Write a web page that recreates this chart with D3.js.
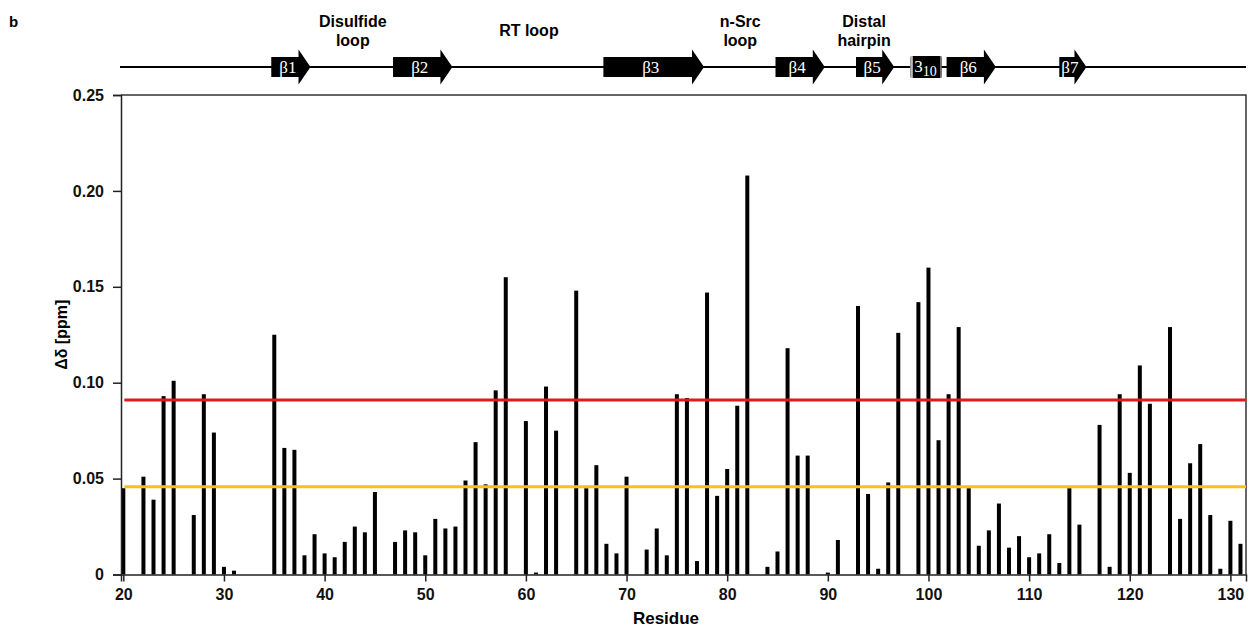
<!DOCTYPE html>
<html>
<head>
<meta charset="utf-8">
<script src="https://cdn.jsdelivr.net/npm/d3@7"></script>
<style>
  body { margin: 0; background: #fff; }
</style>
</head>
<body>
<div id="chart"></div>
<script>
// Residue numbers and chemical shift perturbations (ppm)
var residues = [20, 22, 23, 24, 25, 27, 28, 29, 30, 31,
    35, 36, 37, 38, 39, 40, 41, 42, 43, 44, 45,
    47, 48, 49, 50, 51, 52, 53, 54, 55, 56, 57, 58,
    60, 61, 62, 63, 65, 66, 67, 68, 69, 70,
    72, 73, 74, 75, 76, 77, 78, 79, 80, 81, 82,
    84, 85, 86, 87, 88, 90, 91, 93, 94, 95, 96, 97,
    99, 100, 101, 102, 103, 104, 105, 106, 107, 108, 109, 110,
    111, 112, 113, 114, 115, 117, 118, 119, 120, 121, 122,
    124, 125, 126, 127, 128, 129, 130, 131];
var shifts = [0.045, 0.051, 0.039, 0.093, 0.101, 0.031, 0.094, 0.074, 0.004, 0.002,
    0.125, 0.066, 0.065, 0.010, 0.021, 0.011, 0.009, 0.017, 0.025, 0.022, 0.043,
    0.017, 0.023, 0.022, 0.010, 0.029, 0.024, 0.025, 0.049, 0.069, 0.047, 0.096, 0.155,
    0.080, 0.001, 0.098, 0.075, 0.148, 0.045, 0.057, 0.016, 0.011, 0.051,
    0.013, 0.024, 0.010, 0.094, 0.092, 0.007, 0.147, 0.041, 0.055, 0.088, 0.208,
    0.004, 0.012, 0.118, 0.062, 0.062, 0.001, 0.018, 0.140, 0.042, 0.003, 0.048, 0.126,
    0.142, 0.160, 0.070, 0.094, 0.129, 0.045, 0.015, 0.023, 0.037, 0.014, 0.020, 0.009,
    0.011, 0.021, 0.006, 0.045, 0.026, 0.078, 0.004, 0.094, 0.053, 0.109, 0.089,
    0.129, 0.029, 0.058, 0.068, 0.031, 0.003, 0.028, 0.016];

// Thresholds
var thresholds = [0.091, 0.0458];
var thresholdColors = ['#e0191b', '#f7c11a'];

// Secondary structure (residue ranges)
var strandLabels = ['β1', 'β2', 'β3', 'β4', 'β5', 'β6', 'β7'];
var strandStart = [34.7, 46.8, 67.7, 84.8, 92.8, 101.8, 113.0];
var strandEnd = [38.6, 52.7, 77.7, 89.7, 96.6, 106.7, 115.7];
var helixStart = 98.2, helixEnd = 101.3;

// Loop annotations
var loopLabels = [['Disulfide', 'loop'], ['RT loop'], ['n-Src', 'loop'], ['Distal', 'hairpin']];
var loopCenters = [42.8, 60.3, 81.3, 93.6];

var yTicks = [0, 0.05, 0.10, 0.15, 0.20, 0.25];
var xTicks = [20, 30, 40, 50, 60, 70, 80, 90, 100, 110, 120, 130];

var sansFont = '"Liberation Sans", Arial, sans-serif';
var serifFont = '"Liberation Serif", "Times New Roman", serif';

var width = 1250, height = 631;
var margin = {top: 95, right: 4, bottom: 56.5, left: 121};

var svg = d3.select('#chart').append('svg')
    .attr('width', width)
    .attr('height', height)
    .attr('font-family', sansFont);

var x = d3.scaleLinear()
    .domain([19.77, 131.55])
    .range([margin.left, width - margin.right]);

var y = d3.scaleLinear()
    .domain([0, 0.25])
    .range([height - margin.bottom, margin.top]);

// Frame (top and right)
svg.append('path')
    .attr('d', 'M' + x.range()[0] + ',' + y(0.25) + 'H' + x.range()[1] + 'V' + y(0))
    .attr('fill', 'none')
    .attr('stroke', '#333')
    .attr('stroke-width', 1.5);

// Bars
svg.selectAll('.bar')
    .data(residues)
    .enter()
    .append('rect')
    .attr('class', 'bar')
    .attr('x', function(d) { return x(d) - 2; })
    .attr('width', 4)
    .attr('y', function(d, i) { return y(shifts[i]); })
    .attr('height', function(d, i) { return y(0) - y(shifts[i]); })
    .attr('fill', '#000');

// Threshold lines
svg.selectAll('.thr')
    .data(thresholds)
    .enter()
    .append('line')
    .attr('x1', x(20.1))
    .attr('x2', x.range()[1])
    .attr('y1', function(d) { return y(d); })
    .attr('y2', function(d) { return y(d); })
    .attr('stroke', function(d, i) { return thresholdColors[i]; })
    .attr('stroke-width', 3);

// Axes
var yAxis = d3.axisLeft(y)
    .tickValues(yTicks)
    .tickSize(8)
    .tickFormat(function(d) { return d === 0 ? '0' : d3.format('.2f')(d); });
var xAxis = d3.axisBottom(x)
    .tickValues(xTicks)
    .tickSize(7);

var gy = svg.append('g')
    .attr('transform', 'translate(' + margin.left + ',0)')
    .call(yAxis);
var gx = svg.append('g')
    .attr('transform', 'translate(0,' + y(0) + ')')
    .call(xAxis);

[gx, gy].forEach(function(g) {
    g.select('.domain').attr('stroke', '#222').attr('stroke-width', 1.5);
    g.selectAll('.tick line').attr('stroke', '#222').attr('stroke-width', 1.5);
    g.selectAll('.tick text')
        .attr('font-family', sansFont)
        .attr('font-size', 16)
        .attr('font-weight', 'bold')
        .attr('fill', '#111');
});
gy.selectAll('.tick text').attr('x', -17);
gx.selectAll('.tick text').attr('y', 14);

// Axis titles
svg.append('text')
    .attr('transform', 'translate(67,' + y(0.125) + ') rotate(-90)')
    .attr('text-anchor', 'middle')
    .attr('font-size', 16)
    .attr('font-weight', 'bold')
    .text('Δδ [ppm]');

svg.append('text')
    .attr('x', 666)
    .attr('y', 624)
    .attr('text-anchor', 'middle')
    .attr('font-size', 17)
    .attr('font-weight', 'bold')
    .text('Residue');

// Panel letter
svg.append('text')
    .attr('x', 9)
    .attr('y', 27)
    .attr('font-size', 15)
    .attr('font-weight', 'bold')
    .text('b');

// Secondary structure track
var trackY = 67;
svg.append('line')
    .attr('x1', 120)
    .attr('x2', x.range()[1])
    .attr('y1', trackY)
    .attr('y2', trackY)
    .attr('stroke', '#000')
    .attr('stroke-width', 2);

var headLen = 12, bodyHalf = 10, headHalf = 17.5;
var strands = svg.selectAll('.strand')
    .data(strandLabels)
    .enter()
    .append('g')
    .attr('class', 'strand');

strands.append('path')
    .attr('d', function(d, i) {
        var x0 = x(strandStart[i]), x1 = x(strandEnd[i]), xh = x1 - headLen;
        return 'M' + x0 + ',' + (trackY - bodyHalf) +
            'H' + xh + 'V' + (trackY - headHalf) +
            'L' + x1 + ',' + trackY +
            'L' + xh + ',' + (trackY + headHalf) +
            'V' + (trackY + bodyHalf) +
            'H' + x0 + 'Z';
    })
    .attr('fill', '#000');

strands.append('text')
    .attr('x', function(d, i) { return (x(strandStart[i]) + x(strandEnd[i]) - headLen) / 2 + 3; })
    .attr('y', trackY + 6)
    .attr('text-anchor', 'middle')
    .attr('font-family', serifFont)
    .attr('font-size', 17)
    .attr('fill', '#fff')
    .text(function(d) { return d; });

// 3-10 helix
svg.append('rect')
    .attr('x', x(helixStart))
    .attr('y', trackY - 11)
    .attr('width', x(helixEnd) - x(helixStart))
    .attr('height', 22)
    .attr('rx', 2)
    .attr('fill', '#000');
svg.append('rect')
    .attr('x', x(helixStart))
    .attr('y', trackY - 11)
    .attr('width', 2.5)
    .attr('height', 22)
    .attr('fill', '#bbb');
svg.append('rect')
    .attr('x', x(helixEnd) - 1.5)
    .attr('y', trackY - 11)
    .attr('width', 1.5)
    .attr('height', 22)
    .attr('fill', '#777');
var helixText = svg.append('text')
    .attr('x', x(helixStart) + 4)
    .attr('y', trackY + 5)
    .attr('font-family', serifFont)
    .attr('font-size', 17)
    .attr('fill', '#fff');
helixText.append('tspan').text('3');
helixText.append('tspan').attr('font-size', 14).attr('dy', 4).text('10');

// Loop labels
var loops = svg.selectAll('.loop')
    .data(loopLabels)
    .enter()
    .append('text')
    .attr('class', 'loop')
    .attr('text-anchor', 'middle')
    .attr('font-size', 16)
    .attr('font-weight', 'bold')
    .attr('y', function(d) { return d.length === 1 ? 36 : 27; });

loops.selectAll('tspan')
    .data(function(d, i) { return d.map(function(t) { return {t: t, i: i}; }); })
    .enter()
    .append('tspan')
    .attr('x', function(d) { return x(loopCenters[d.i]); })
    .attr('dy', function(d, j) { return j === 0 ? 0 : 19; })
    .text(function(d) { return d.t; });
</script>
</body>
</html>
